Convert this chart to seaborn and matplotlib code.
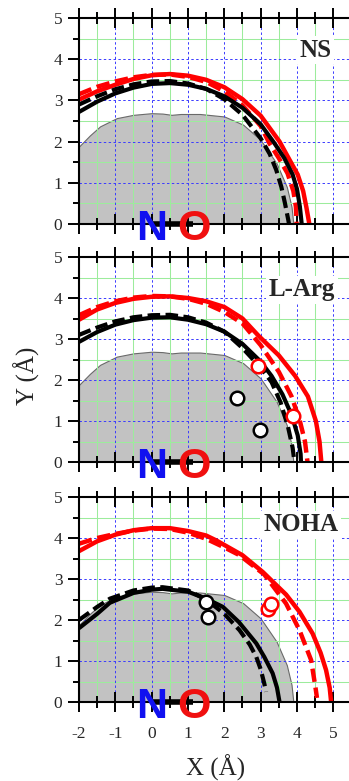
import numpy as np
import pandas as pd
import matplotlib
matplotlib.use("Agg")
import matplotlib.pyplot as plt
import seaborn as sns
from matplotlib.ticker import MultipleLocator

# ---------------- data ----------------
PANELS = ["NS", "L-Arg", "NOHA"]

# gray surface (same in every panel)
GRAY_X = [-2.0, -1.7, -1.42, -0.96, -0.5, 0.0, 0.3, 0.55, 0.8, 1.33, 2.0, 2.52, 3.0, 3.44, 3.72, 3.85, 3.9]
GRAY_Y = [1.88, 2.15, 2.37, 2.57, 2.65, 2.69, 2.68, 2.65, 2.67, 2.67, 2.61, 2.41, 2.04, 1.47, 0.9, 0.42, 0.0]

# NS
NS_RS_X = [-2, -1.5, -1, -0.5, 0, 0.5, 1, 1.5, 2, 2.5, 3, 3.52, 3.8, 4.02, 4.17, 4.26, 4.34]
NS_RS_Y = [3.02, 3.22, 3.38, 3.52, 3.61, 3.64, 3.6, 3.5, 3.32, 3.03, 2.63, 2.0, 1.55, 1.2, 0.8, 0.4, 0.0]
NS_RD_X = [-2, -1.5, -1, -0.5, 0, 0.5, 1, 1.5, 2, 2.5, 3, 3.24, 3.5, 3.74, 3.9, 3.97, 3.99]
NS_RD_Y = [3.15, 3.33, 3.46, 3.56, 3.62, 3.63, 3.57, 3.45, 3.22, 2.88, 2.38, 1.96, 1.6, 1.23, 0.8, 0.42, 0.0]
NS_BS_X = [-2, -1.5, -1, -0.5, 0, 0.5, 1, 1.5, 2, 2.5, 3, 3.38, 3.65, 3.88, 4.0, 4.08, 4.13]
NS_BS_Y = [2.72, 2.97, 3.17, 3.31, 3.4, 3.42, 3.38, 3.28, 3.1, 2.82, 2.42, 1.96, 1.6, 1.2, 0.85, 0.42, 0.0]
NS_BD_X = [-2, -1.5, -1, -0.5, 0, 0.5, 1, 1.5, 2, 2.5, 3.0, 3.25, 3.43, 3.57, 3.67, 3.76, 3.78]
NS_BD_Y = [2.9, 3.1, 3.27, 3.39, 3.46, 3.47, 3.41, 3.28, 3.03, 2.65, 2.08, 1.7, 1.31, 0.9, 0.5, 0.1, 0.0]

# L-Arg
LA_RS_X = [-2, -1.5, -1, -0.5, 0, 0.5, 1, 1.5, 2, 2.5, 2.94, 3.5, 3.95, 4.3, 4.52, 4.62, 4.67]
LA_RS_Y = [3.47, 3.72, 3.88, 3.98, 4.03, 4.04, 4.0, 3.92, 3.78, 3.5, 3.08, 2.6, 2.1, 1.6, 1.0, 0.5, 0.0]
LA_RD_X = [-2, -1.5, -1, -0.5, 0, 0.5, 1, 1.5, 2, 2.5, 3.0, 3.5, 3.85, 4.08, 4.22, 4.29]
LA_RD_Y = [3.58, 3.78, 3.92, 4.01, 4.05, 4.04, 3.98, 3.86, 3.66, 3.38, 2.85, 2.2, 1.6, 1.0, 0.5, 0.0]
LA_BS_X = [-2, -1.5, -1, -0.5, 0, 0.5, 1, 1.5, 2, 2.5, 3.0, 3.3, 3.6, 3.85, 4.02, 4.1, 4.11]
LA_BS_Y = [2.93, 3.17, 3.35, 3.46, 3.52, 3.53, 3.47, 3.36, 3.18, 2.88, 2.45, 2.1, 1.65, 1.15, 0.65, 0.2, 0.0]
LA_BD_X = [-2, -1.5, -1, -0.5, 0, 0.5, 1, 1.5, 2, 2.5, 3.0, 3.3, 3.55, 3.75, 3.88, 3.93]
LA_BD_Y = [3.1, 3.28, 3.43, 3.53, 3.58, 3.59, 3.53, 3.4, 3.18, 2.78, 2.3, 1.95, 1.45, 0.87, 0.35, 0.0]
LA_RED_PTS_X = [2.93, 3.88]
LA_RED_PTS_Y = [2.35, 1.11]
LA_BLK_PTS_X = [2.34, 2.98]
LA_BLK_PTS_Y = [1.57, 0.77]

# NOHA
NO_RS_X = [-2, -1.5, -1, -0.5, 0, 0.5, 1, 1.5, 1.78, 2.5, 3.06, 3.7, 4.07, 4.43, 4.65, 4.8, 4.9, 4.94]
NO_RS_Y = [3.68, 3.92, 4.08, 4.19, 4.24, 4.24, 4.17, 4.06, 3.94, 3.58, 3.17, 2.62, 2.2, 1.67, 1.2, 0.78, 0.35, 0.0]
NO_RD_X = [-2, -1.5, -1, -0.5, 0, 0.5, 1, 1.5, 2, 2.42, 3.1, 3.7, 4.07, 4.39, 4.52, 4.55]
NO_RD_Y = [3.86, 4.0, 4.1, 4.18, 4.23, 4.22, 4.13, 3.98, 3.77, 3.58, 3.11, 2.4, 1.75, 1.02, 0.29, 0.1]
NO_BS_X = [-2, -1.5, -1.15, -0.5, 0, 0.3, 1, 1.5, 1.96, 2.4, 2.88, 3.1, 3.33, 3.45, 3.52]
NO_BS_Y = [1.8, 2.15, 2.42, 2.66, 2.74, 2.76, 2.69, 2.52, 2.32, 1.95, 1.43, 1.1, 0.7, 0.35, 0.0]
NO_BD_X = [-2, -1.5, -1.15, -0.5, 0, 0.3, 1, 1.5, 2, 2.42, 2.7, 2.88, 3.0, 3.1, 3.15]
NO_BD_Y = [2.0, 2.32, 2.52, 2.72, 2.79, 2.8, 2.72, 2.5, 2.15, 1.75, 1.4, 1.1, 0.8, 0.45, 0.25]
NO_RED_PTS_X = [3.2, 3.28]
NO_RED_PTS_Y = [2.27, 2.39]
NO_BLK_PTS_X = [1.5, 1.56]
NO_BLK_PTS_Y = [2.44, 2.07]

CURVES = {
    "NS": [(NS_RS_X, NS_RS_Y, "red", False), (NS_RD_X, NS_RD_Y, "red", True),
           (NS_BS_X, NS_BS_Y, "black", False), (NS_BD_X, NS_BD_Y, "black", True)],
    "L-Arg": [(LA_RS_X, LA_RS_Y, "red", False), (LA_RD_X, LA_RD_Y, "red", True),
              (LA_BS_X, LA_BS_Y, "black", False), (LA_BD_X, LA_BD_Y, "black", True)],
    "NOHA": [(NO_RS_X, NO_RS_Y, "red", False), (NO_RD_X, NO_RD_Y, "red", True),
             (NO_BS_X, NO_BS_Y, "black", False), (NO_BD_X, NO_BD_Y, "black", True)],
}
POINTS = {
    "NS": [],
    "L-Arg": [(LA_RED_PTS_X, LA_RED_PTS_Y, "red"), (LA_BLK_PTS_X, LA_BLK_PTS_Y, "black")],
    "NOHA": [(NO_RED_PTS_X, NO_RED_PTS_Y, "red"), (NO_BLK_PTS_X, NO_BLK_PTS_Y, "black")],
}
LABEL_POS = {"NS": (4.95, 4.22), "L-Arg": (5.06, 4.2), "NOHA": (5.13, 4.32)}

N_X, O_X = 0.0, 1.15
X_TICKS = [-2, -1, 0, 1, 2, 3, 4, 5]
Y_TICKS = [0, 1, 2, 3, 4, 5]

# ---------------- style ----------------
sns.set_theme(style="white")
plt.rcParams["font.family"] = ["Liberation Serif", "DejaVu Serif"]
plt.rcParams["axes.linewidth"] = 1.5

W, H = 349, 781
fig = plt.figure(figsize=(W / 100, H / 100), dpi=100)

xpu = 36.33  # px per x unit
left = 79 / W
width = 7.5 * xpu / W
panel_px = [(18, 224), (257, 462), (497, 702)]

GREEN = "#9cec9c"
BLUE = "#3a3aff"

for i, name in enumerate(PANELS):
    top, bot = panel_px[i]
    ax = fig.add_axes([left, 1 - bot / H, width, (bot - top) / H])
    ax.set_xlim(-2, 5.5)
    ax.set_ylim(0, 5)
    ax.set_axisbelow("line")

    # gray surface
    ax.fill_between(GRAY_X, GRAY_Y, 0, facecolor="#c2c2c2", edgecolor="#6a6a6a",
                    linewidth=0.8, zorder=1)

    # grid
    for gx in np.arange(-1.5, 5.5, 1.0):
        ax.axvline(gx, color=GREEN, lw=0.75, zorder=1.2)
    for gy in np.arange(0.5, 5.0, 1.0):
        ax.axhline(gy, color=GREEN, lw=0.75, zorder=1.2)
    for gx in range(-1, 6):
        ax.axvline(gx, color=BLUE, lw=0.7, ls=(0, (2.5, 2.5)), zorder=1.3)
    for gy in range(1, 5):
        ax.axhline(gy, color=BLUE, lw=0.7, ls=(0, (2.5, 2.5)), zorder=1.3)

    # curves
    for xs, ys, col, dashed in CURVES[name]:
        df = pd.DataFrame({"x": xs, "y": ys})
        sns.lineplot(data=df, x="x", y="y", sort=False, estimator=None, ax=ax,
                     color=col, linewidth=3.2 if col == "red" else 3.0, zorder=4)
        ln = ax.lines[-1]
        if dashed:
            ln.set_linestyle((0, (3.0, 1.3)))
            ln.set_dash_capstyle("butt")
        ln.set_solid_capstyle("butt")

    # points
    for xs, ys, col in POINTS[name]:
        sns.scatterplot(x=xs, y=ys, ax=ax, s=95, facecolor="white", edgecolor=col,
                        linewidth=1.8, zorder=6, legend=False)

    # N-O molecule
    ax.plot([N_X, O_X], [0, 0], color="black", lw=4, zorder=7, clip_on=False,
            solid_capstyle="butt")
    ax.text(N_X, -0.39, "N", color="#1010f0", fontsize=31, fontweight="bold",
            family=["Liberation Sans", "DejaVu Sans"], ha="center", va="baseline",
            zorder=8, clip_on=False)
    ax.text(O_X, -0.39, "O", color="#f01010", fontsize=31, fontweight="bold",
            family=["Liberation Sans", "DejaVu Sans"], ha="center", va="baseline",
            zorder=8, clip_on=False)

    # panel label
    lx, ly = LABEL_POS[name]
    ax.text(lx, ly, name, ha="right", va="center", fontsize=18, fontweight="bold",
            zorder=5, bbox=dict(facecolor="white", edgecolor="none", pad=2))

    # ticks
    ax.xaxis.set_minor_locator(MultipleLocator(0.5))
    ax.yaxis.set_minor_locator(MultipleLocator(0.5))
    ax.set_xticks(X_TICKS)
    ax.set_yticks(Y_TICKS)
    ax.tick_params(axis="x", which="major", direction="inout", length=14, width=1.4,
                   top=True, bottom=True, pad=10, labelsize=12.5, color="black")
    ax.tick_params(axis="x", which="minor", direction="inout", length=8, width=1.4,
                   top=True, bottom=True, color="black")
    ax.tick_params(axis="y", which="major", direction="out", length=8, width=1.4,
                   left=True, right=False, pad=4, labelsize=12.5, color="black")
    ax.tick_params(axis="y", which="minor", direction="out", length=4.5, width=1.4,
                   left=True, right=False, color="black")
    ax.set_xticklabels([str(t) for t in X_TICKS])
    if i < 2:
        ax.tick_params(axis="x", labelbottom=False)
    ax.set_xlabel("")
    ax.set_ylabel("")
    for s in ax.spines.values():
        s.set_color("black")
        s.set_linewidth(1.5)
        s.set_zorder(7)

fig.text(27 / W, 1 - 376 / H, "Y (Å)", rotation=90, ha="center", va="center", fontsize=18)
fig.text(216 / W, 1 - 768 / H, "X (Å)", ha="center", va="center", fontsize=18)

fig.savefig("out.png", dpi=100)
